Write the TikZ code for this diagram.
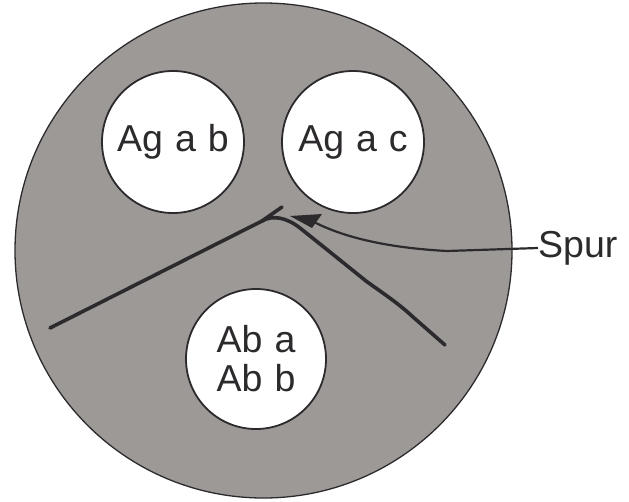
\documentclass[tikz,border=0pt]{standalone}
\usepackage{fontspec}
\setmainfont{Liberation Sans}
\usetikzlibrary{shapes.geometric}
\definecolor{cellgray}{RGB}{156,153,151}
\definecolor{ink}{RGB}{45,42,46}
\newcommand\wsp{\hspace{12pt}}
\begin{document}
\begin{tikzpicture}[x=1pt,y=-1pt,
  lbl/.style={font=\fontsize{37.5}{40}\selectfont, text=ink},
  well/.style={circle, draw=ink, line width=1.8pt, fill=white, minimum size=142pt, inner sep=0pt, lbl, align=center},
  band/.style={draw=ink, line width=3.6pt, line cap=round, line join=round},
  pointer/.style={draw=ink, line width=2.2pt}
]
\useasboundingbox (0,0) rectangle (629,501);
\node[ellipse, draw=ink, line width=1.3pt, fill=cellgray, minimum width=497pt, minimum height=495pt, inner sep=0pt] (plate) at (263.5,250.5) {};
\node[well] (wab) at (173,142) {Ag\wsp a\wsp b};
\node[well] (wac) at (353,142) {Ag\wsp a\wsp c};
\node[well, minimum size=140pt] (wbot) at (256,359) {Ab\wsp a\\[-1pt]Ab\wsp b};
\node[lbl, anchor=west, inner sep=0pt] (spur) at (538,248) {Spur};
% precipitin lines
\coordinate (l1) at (50,328);
\coordinate (pk) at (262,221);
\coordinate (tip) at (282,207);
\coordinate (r1) at (445,345);
\draw[band] (l1) -- (pk) -- (tip);
\draw[band] (pk) .. controls (272,215) and (286,217) .. (300,228)
  -- (330,252) -- (366,281) .. controls (384,294) and (398,303) .. (413,317) -- (r1);
% pointer arrow
\coordinate (ah) at (290,216);
\draw[pointer] (spur.west) -- (447,251) .. controls (390,248) and (345,238) .. (314,222);
\fill[ink] (ah) -- (322,214) -- (312,228) -- cycle;
\end{tikzpicture}
\end{document}
